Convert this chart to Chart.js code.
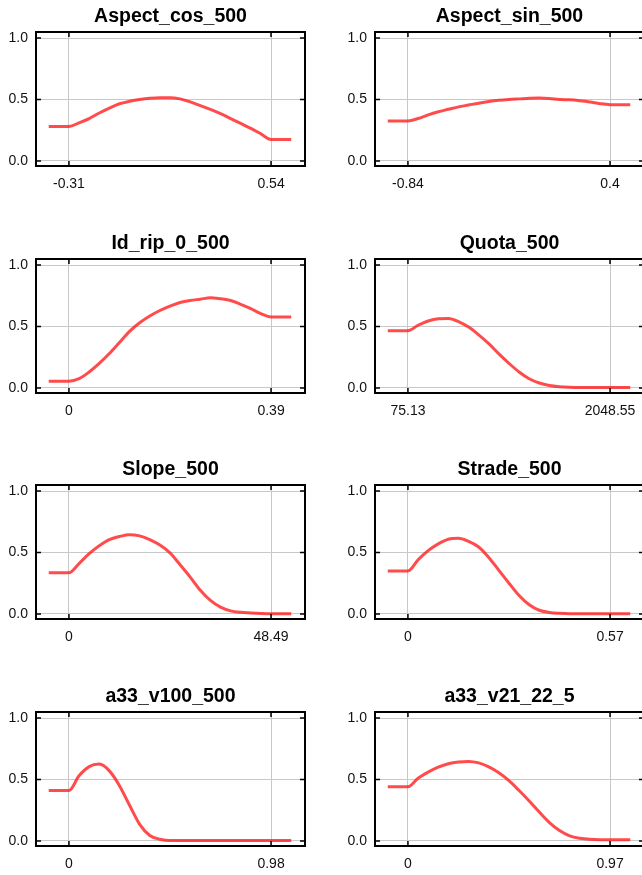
<!DOCTYPE html>
<html>
<head>
<meta charset="utf-8">
<script src="https://cdn.jsdelivr.net/npm/chart.js@4"></script>
<style>
  html, body { margin: 0; padding: 0; background: #fff; }
  body { width: 642px; height: 875px; position: relative; overflow: hidden; }
  .panel { position: absolute; width: 321px; height: 200px; }
  .panel canvas { position: absolute; left: 0; top: 0; }
  .title {
    position: absolute; left: 36px; width: 269px; top: 4px;
    text-align: center; font: bold 19.5px "Liberation Sans", Arial, sans-serif;
    line-height: 23px; color: #000;
  }
</style>
</head>
<body>
<script>
// Panel titles and the two x tick labels each panel shows
const titles = ["Aspect_cos_500", "Aspect_sin_500", "Id_rip_0_500", "Quota_500",
                "Slope_500", "Strade_500", "a33_v100_500", "a33_v21_22_5"];
const xMinLabels = ["-0.31", "-0.84", "0", "75.13", "0", "0", "0", "0"];
const xMaxLabels = ["0.54", "0.4", "0.39", "2048.55", "48.49", "0.57", "0.98", "0.97"];

// Sample positions along x, 0 = first tick, 1 = last tick
const sampleX = [-0.1, -0.05, 0, 0.05, 0.1, 0.15, 0.2, 0.25, 0.3, 0.35, 0.4, 0.45, 0.5,
                 0.55, 0.6, 0.65, 0.7, 0.75, 0.8, 0.85, 0.9, 0.95, 1, 1.05, 1.1];

// Curve values
const aspectCos = [0.28, 0.28, 0.28, 0.31, 0.345, 0.39, 0.43, 0.465, 0.485, 0.5, 0.51, 0.515, 0.515,
                   0.505, 0.48, 0.45, 0.42, 0.385, 0.345, 0.305, 0.265, 0.22, 0.175, 0.175, 0.175];
const aspectSin = [0.325, 0.325, 0.325, 0.345, 0.375, 0.4, 0.42, 0.44, 0.455, 0.47, 0.483, 0.493, 0.5,
                   0.505, 0.51, 0.512, 0.508, 0.5, 0.497, 0.49, 0.48, 0.466, 0.458, 0.458, 0.458];
const idRip = [0.055, 0.055, 0.055, 0.075, 0.13, 0.2, 0.28, 0.37, 0.46, 0.53, 0.585, 0.63, 0.665,
               0.695, 0.712, 0.722, 0.733, 0.725, 0.712, 0.68, 0.645, 0.605, 0.578, 0.578, 0.578];
const quota = [0.466, 0.466, 0.466, 0.51, 0.545, 0.563, 0.565, 0.54, 0.495, 0.432, 0.36, 0.277, 0.2,
               0.13, 0.075, 0.04, 0.02, 0.01, 0.005, 0.003, 0.003, 0.003, 0.003, 0.003, 0.003];
const slope = [0.335, 0.335, 0.335, 0.41, 0.49, 0.555, 0.605, 0.63, 0.645, 0.635, 0.605, 0.56, 0.497,
               0.4, 0.3, 0.193, 0.11, 0.055, 0.025, 0.013, 0.008, 0.004, 0.002, 0.002, 0.002];
const strade = [0.35, 0.35, 0.35, 0.44, 0.515, 0.57, 0.608, 0.615, 0.59, 0.545, 0.46, 0.355, 0.25,
                0.15, 0.075, 0.03, 0.012, 0.005, 0.002, 0.002, 0.002, 0.002, 0.002, 0.002, 0.002];
const a33v100 = [0.41, 0.41, 0.41, 0.53, 0.605, 0.625, 0.57, 0.45, 0.29, 0.135, 0.045, 0.014, 0.003,
                 0.003, 0.003, 0.003, 0.003, 0.003, 0.003, 0.003, 0.003, 0.003, 0.003, 0.003, 0.003];
const a33v21 = [0.44, 0.44, 0.44, 0.51, 0.56, 0.6, 0.628, 0.642, 0.647, 0.635, 0.603, 0.555, 0.49,
                0.41, 0.325, 0.235, 0.15, 0.085, 0.042, 0.022, 0.013, 0.01, 0.01, 0.01, 0.01];

const series = [aspectCos, aspectSin, idRip, quota, slope, strade, a33v100, a33v21];

// Draws the black frame and the short inward tick marks
const framePlugin = {
  id: "frame",
  afterDraw(chart) {
    const { ctx, chartArea: a, scales } = chart;
    ctx.save();
    ctx.strokeStyle = "#000";
    ctx.lineWidth = 2;
    ctx.strokeRect(a.left, a.top, a.right - a.left, a.bottom - a.top);
    ctx.lineWidth = 1.5;
    ctx.beginPath();
    scales.y.ticks.forEach((t) => {
      const y = scales.y.getPixelForValue(t.value);
      ctx.moveTo(a.left, y); ctx.lineTo(a.left + 5, y);
      ctx.moveTo(a.right, y); ctx.lineTo(a.right - 5, y);
    });
    scales.x.ticks.forEach((t) => {
      const x = scales.x.getPixelForValue(t.value);
      ctx.moveTo(x, a.top); ctx.lineTo(x, a.top + 5);
      ctx.moveTo(x, a.bottom); ctx.lineTo(x, a.bottom - 5);
    });
    ctx.stroke();
    ctx.restore();
  },
};

const rowTops = [0, 227, 453, 680];
const colLefts = [0, 339];

titles.forEach((title, i) => {
  const div = document.createElement("div");
  div.className = "panel";
  div.style.left = colLefts[i % 2] + "px";
  div.style.top = rowTops[Math.floor(i / 2)] + "px";
  const canvas = document.createElement("canvas");
  canvas.width = 321;
  canvas.height = 200;
  div.appendChild(canvas);
  const head = document.createElement("div");
  head.className = "title";
  head.textContent = title;
  div.appendChild(head);
  document.body.appendChild(div);

  new Chart(canvas.getContext("2d"), {
    type: "line",
    data: {
      datasets: [{
        data: sampleX.map((x, k) => ({ x: x, y: series[i][k] })),
        borderColor: "rgba(255, 30, 30, 0.8)",
        borderWidth: 3,
        pointRadius: 0,
        cubicInterpolationMode: "monotone",
      }],
    },
    options: {
      responsive: false,
      animation: false,
      layout: { padding: { left: 0, right: 16, top: 32, bottom: 0 } },
      plugins: {
        legend: { display: false },
        tooltip: { enabled: false },
      },
      scales: {
        x: {
          type: "linear",
          min: -0.163,
          max: 1.168,
          afterBuildTicks: (s) => { s.ticks = [{ value: 0 }, { value: 1 }]; },
          afterFit: (s) => { s.height = 34; },
          border: { display: false },
          grid: { color: "#c8c8c8", lineWidth: 1, drawTicks: false },
          ticks: {
            padding: 10,
            maxRotation: 0,
            autoSkip: false,
            color: "#111",
            font: { family: "Liberation Sans", size: 14 },
            callback: (v) => (v === 0 ? xMinLabels[i] : xMaxLabels[i]),
          },
        },
        y: {
          min: -0.041,
          max: 1.049,
          afterBuildTicks: (s) => { s.ticks = [{ value: 0 }, { value: 0.5 }, { value: 1 }]; },
          afterFit: (s) => { s.width = 36; },
          border: { display: false },
          grid: { color: "#c8c8c8", lineWidth: 1, drawTicks: false },
          ticks: {
            padding: 8,
            color: "#111",
            font: { family: "Liberation Sans", size: 14 },
            callback: (v) => v.toFixed(1),
          },
        },
      },
    },
    plugins: [framePlugin],
  });
});
</script>
</body>
</html>
